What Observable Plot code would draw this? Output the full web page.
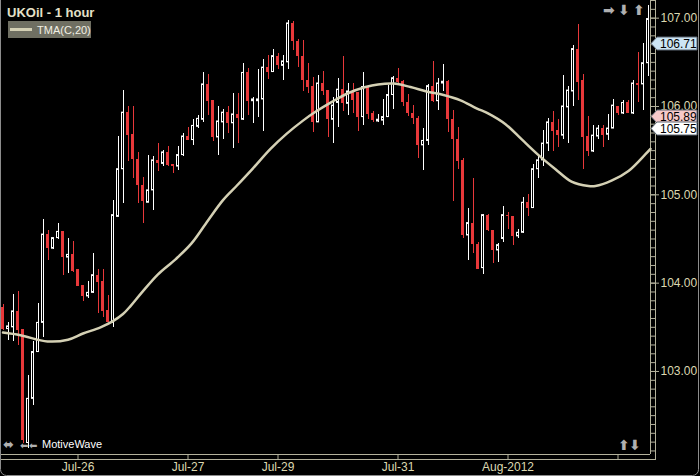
<!DOCTYPE html>
<html><head><meta charset="utf-8">
<script src="https://cdn.jsdelivr.net/npm/d3@7"></script>
<script src="https://cdn.jsdelivr.net/npm/@observablehq/plot@0.6"></script>
<style>
html,body{margin:0;padding:0;background:#000;}
#chart{width:700px;height:476px;position:relative;overflow:hidden;}
</style></head><body><div id="chart"></div>
<script>
// Hourly UKOil candles (open, high, low, close), one per bar index
const opens  = [103.72,103.48,103.50,103.68,103.47,102.19,102.69,103.22,103.55,104.55,104.39,104.51,104.58,104.29,104.32,104.16,103.97,103.85,103.89,104.09,104.02,103.69,103.55,104.75,105.29,105.93,105.68,105.40,105.10,104.91,105.05,105.39,105.35,105.48,105.34,105.32,105.45,105.66,105.62,105.77,105.85,106.25,106.07,105.65,105.82,105.93,105.81,105.91,105.85,106.38,106.06,106.06,106.08,106.44,106.39,106.57,106.46,106.50,106.94,106.74,106.57,106.29,106.23,105.82,106.26,106.18,105.85,106.04,106.19,106.03,106.17,106.16,105.88,106.22,105.92,105.83,105.84,105.88,106.13,106.32,106.28,106.04,105.92,105.86,105.56,105.61,106.23,106.06,106.26,106.28,105.85,105.63,105.39,104.54,104.68,104.44,104.17,104.77,104.60,104.37,104.50,104.77,104.76,104.53,104.57,104.91,104.85,105.29,105.39,105.58,105.82,105.73,105.67,105.99,106.17,106.65,106.29,105.66,105.49,105.66,105.75,105.68,105.75,106.00,105.92,106.04,105.92,106.26,106.25,106.49];
const highs  = [103.76,103.56,103.87,103.90,103.47,102.95,103.34,103.77,104.72,104.60,104.51,104.68,104.58,104.50,104.47,104.16,103.97,104.02,104.33,104.16,104.16,103.86,104.94,105.66,106.18,106.00,106.00,105.48,105.20,105.45,105.43,105.58,105.50,105.55,105.34,105.55,105.69,105.76,105.85,105.90,106.38,106.36,106.07,106.00,105.97,106.00,106.15,106.15,106.49,106.43,106.10,106.42,106.53,106.58,106.65,106.60,106.58,106.97,106.96,106.76,106.75,106.49,106.33,106.35,106.40,106.18,106.10,106.32,106.57,106.26,106.26,106.16,106.38,106.22,105.94,105.91,106.08,106.24,106.34,106.43,106.29,106.14,106.01,105.89,105.75,106.25,106.51,106.32,106.48,106.29,105.96,105.76,105.41,104.85,105.18,104.46,104.78,104.78,104.60,104.45,104.87,104.80,104.76,104.61,104.97,105.00,105.34,105.46,105.73,105.86,105.94,105.85,106.35,106.23,106.69,106.93,106.36,105.89,105.78,105.78,105.78,105.91,106.08,106.00,106.07,106.07,106.29,106.61,106.71,107.14];
const lows   = [103.46,103.35,103.34,103.29,102.18,102.13,102.62,103.21,103.39,104.26,104.38,104.49,104.09,104.11,104.12,103.96,103.79,103.83,103.88,103.66,103.61,103.55,103.50,104.75,104.90,105.38,105.19,104.90,104.68,104.91,104.82,105.26,105.32,105.32,105.24,105.27,105.43,105.61,105.56,105.75,105.82,105.90,105.60,105.44,105.63,105.69,105.53,105.58,105.84,105.90,105.81,105.88,105.72,106.31,106.39,106.42,106.29,106.42,106.63,106.44,106.17,106.15,105.71,105.82,106.12,105.65,105.58,105.76,105.94,105.90,105.92,105.72,105.78,105.85,105.82,105.82,105.78,105.87,105.97,106.26,106.00,105.89,105.80,105.41,105.28,105.56,106.05,105.95,106.17,105.71,104.93,105.29,104.51,104.26,104.34,104.15,104.10,104.58,104.22,104.23,104.46,104.61,104.43,104.51,104.56,104.76,104.85,105.18,105.32,105.49,105.49,105.54,105.63,105.58,106.00,106.07,105.29,105.43,105.48,105.63,105.54,105.62,105.75,105.90,105.91,105.92,105.91,106.04,105.95,106.34];
const closes = [103.48,103.51,103.68,103.46,102.22,102.69,103.22,103.55,104.55,104.39,104.51,104.58,104.29,104.32,104.13,103.96,103.85,103.89,104.09,104.01,103.68,103.56,104.77,105.29,105.93,105.67,105.40,105.10,104.92,105.05,105.39,105.35,105.48,105.33,105.32,105.45,105.66,105.62,105.78,105.86,106.25,106.06,105.65,105.83,105.93,105.81,105.91,105.86,106.38,106.06,106.08,106.08,106.44,106.39,106.57,106.46,106.51,106.94,106.74,106.57,106.29,106.22,105.82,106.26,106.17,105.85,106.01,106.19,106.03,106.17,106.07,105.88,106.22,105.91,105.84,105.85,105.88,106.13,106.32,106.27,106.04,105.92,105.86,105.56,105.61,106.23,106.06,106.26,106.28,105.85,105.63,105.38,104.54,104.68,104.44,104.16,104.77,104.60,104.37,104.43,104.77,104.75,104.53,104.57,104.91,104.85,105.29,105.39,105.58,105.82,105.72,105.67,106.00,106.18,106.65,106.27,105.65,105.49,105.67,105.75,105.67,105.75,106.01,105.92,106.04,105.92,106.26,106.24,106.49,106.99];

// TMA(C,20) (bar index, value)
const tmaIndex = [0,3.5,8.9,13,16,19.5,22,24,25.5,27.7,31,34.5,37.7,41,44,46.7,50,53.5,56.7,60,62.5,65.7,69,72.5,75,78.1,81.5,84.7,88.1,91.5,94.7,97.1,100.5,103.7,107.1,110.5,113.7,117.1,118.5,121.7,125.1,128.5,129.5];
const tmaValue = [103.44,103.41,103.34,103.36,103.43,103.50,103.57,103.65,103.74,103.89,104.10,104.27,104.45,104.71,104.94,105.10,105.30,105.52,105.69,105.84,105.94,106.05,106.15,106.22,106.25,106.26,106.22,106.17,106.13,106.07,105.98,105.92,105.80,105.63,105.45,105.29,105.15,105.10,105.10,105.16,105.27,105.46,105.52];

// Axis ticks
const xTickIndex = [15,37,55,79,101,123];
const xTickLabel = ["Jul-26","Jul-27","Jul-29","Jul-31","Aug-2012",""];
const yTickValue = [103,104,105,106,107];
const yTickLabel = ["103.00","104.00","105.00","106.00","107.00"];

// Price markers on the right axis
const markerValue = [106.71,105.89,105.75];
const markerLabel = ["106.71","105.89","105.75"];
const markerFill  = ["#cde5f4","#f6c9c9","#ffffff"];

const xDomain = [-0.5, 129.5];
const yDomain = [102.06, 107.20];

const data = opens.map((o,i)=>({i, open:o, high:highs[i], low:lows[i], close:closes[i], up: closes[i] >= o}));
const tma = tmaIndex.map((x,k)=>({i:x, v:tmaValue[k]}));

const RED = "#e8383a";
const AXIS = "#b4b29c";
const LABEL = "#dcd8b0";
const FONT = "'Liberation Sans', Arial, sans-serif";

const plot = Plot.plot({
  width:700, height:476,
  marginLeft:0, marginTop:0, marginRight:50, marginBottom:22,
  style:{background:"#000", color:LABEL, fontFamily:FONT, fontSize:"12px"},
  x:{type:"linear", domain:xDomain, label:null},
  y:{domain:yDomain, label:null},
  marks:[
    Plot.frame({stroke:AXIS, insetRight:-5, insetBottom:-5, insetTop:-3}),
    Plot.ruleX([xDomain[1]], {stroke:AXIS}),
    Plot.ruleY([yDomain[0]], {stroke:AXIS}),
    Plot.ruleX(data, {x:"i", y1:"low", y2:"high", stroke:d=>d.up?"#ffffff":RED, strokeWidth:1, shapeRendering:"crispEdges"}),
    Plot.rect(data.filter(d=>!d.up), {x1:d=>d.i-0.3, x2:d=>d.i+0.3, y1:"open", y2:"close", fill:RED, shapeRendering:"crispEdges"}),
    Plot.rect(data.filter(d=>d.up), {x1:d=>d.i-0.2, x2:d=>d.i+0.2, y1:"open", y2:"close", fill:"#000", stroke:"#ffffff", strokeWidth:1}),
    Plot.line(tma, {x:"i", y:"v", stroke:"#d4d0b4", strokeWidth:2.5, curve:"catmull-rom"}),
    Plot.axisY({anchor:"right", ticks:52, tickSize:4, tickFormat:()=>"", stroke:AXIS, label:null}),
    Plot.axisY(yTickValue, {anchor:"right", tickSize:8, tickPadding:2, stroke:AXIS, fill:LABEL, textAnchor:"start",
      tickFormat:d=>yTickLabel[yTickValue.indexOf(d)], fontSize:12, label:null}),
    Plot.axisX(xTickIndex, {anchor:"bottom", tickSize:5, tickPadding:3, stroke:AXIS, fill:LABEL,
      tickFormat:d=>xTickLabel[xTickIndex.indexOf(d)], fontSize:12, label:null})
  ]
});
document.getElementById("chart").appendChild(plot);

const svg = d3.select(plot);
const ys = plot.scale("y");
const deco = svg.append("g").attr("text-anchor","start");

// Price markers
markerValue.forEach((v,k)=>{
  const yy = Math.round(ys.apply(v)) + 0.5;
  deco.append("path")
    .attr("d", `M651,${yy} L657,${yy-6.5} L697,${yy-6.5} L697,${yy+6.5} L657,${yy+6.5} Z`)
    .attr("fill", markerFill[k]).attr("stroke", "#5a6470").attr("stroke-width", 1);
  deco.append("text").attr("x", 660).attr("y", yy+4.5).attr("text-anchor","start")
    .attr("font-family",FONT).attr("font-size",12)
    .attr("fill","#000").text(markerLabel[k]);
});

// Title and legend
deco.append("text").attr("x",7).attr("y",17).attr("text-anchor","start")
  .attr("font-family",FONT).attr("font-size",13).attr("font-weight","bold")
  .attr("fill","#e4e0c8").text("UKOil - 1 hour");
deco.append("rect").attr("x",8).attr("y",21).attr("width",83).attr("height",17).attr("fill","#6f6f62");
deco.append("line").attr("x1",10).attr("x2",32).attr("y1",29.5).attr("y2",29.5)
  .attr("stroke","#d4d0b4").attr("stroke-width",3);
deco.append("text").attr("x",37).attr("y",33.5).attr("text-anchor","start")
  .attr("font-family",FONT).attr("font-size",11)
  .attr("fill","#f2f0e4").text("TMA(C,20)");

// Toolbar glyphs
const icon = (x,y,t,size)=>deco.append("text").attr("x",x).attr("y",y).attr("text-anchor","start")
  .attr("font-family","'DejaVu Sans', sans-serif").attr("font-size",size).attr("font-weight","bold")
  .attr("fill","#b0b0b0").text(t);
icon(603,15,"➡",14); icon(618,15,"⬇",14); icon(633,15,"⬆",14);
icon(618,450,"⬆",14); icon(629,450,"⬇",14);
icon(3,449,"⬌",13); icon(20,449,"⬅",10); icon(29,449,"⬅",10);
deco.append("text").attr("x",42).attr("y",448).attr("text-anchor","start")
  .attr("font-family",FONT).attr("font-size",11)
  .attr("fill","#ffffff").text("MotiveWave");

// Window border
deco.append("rect").attr("x",0.5).attr("y",-10).attr("width",698).attr("height",485.5).attr("rx",6)
  .attr("fill","none").attr("stroke","#8c8c8c");
</script>
</body></html>
